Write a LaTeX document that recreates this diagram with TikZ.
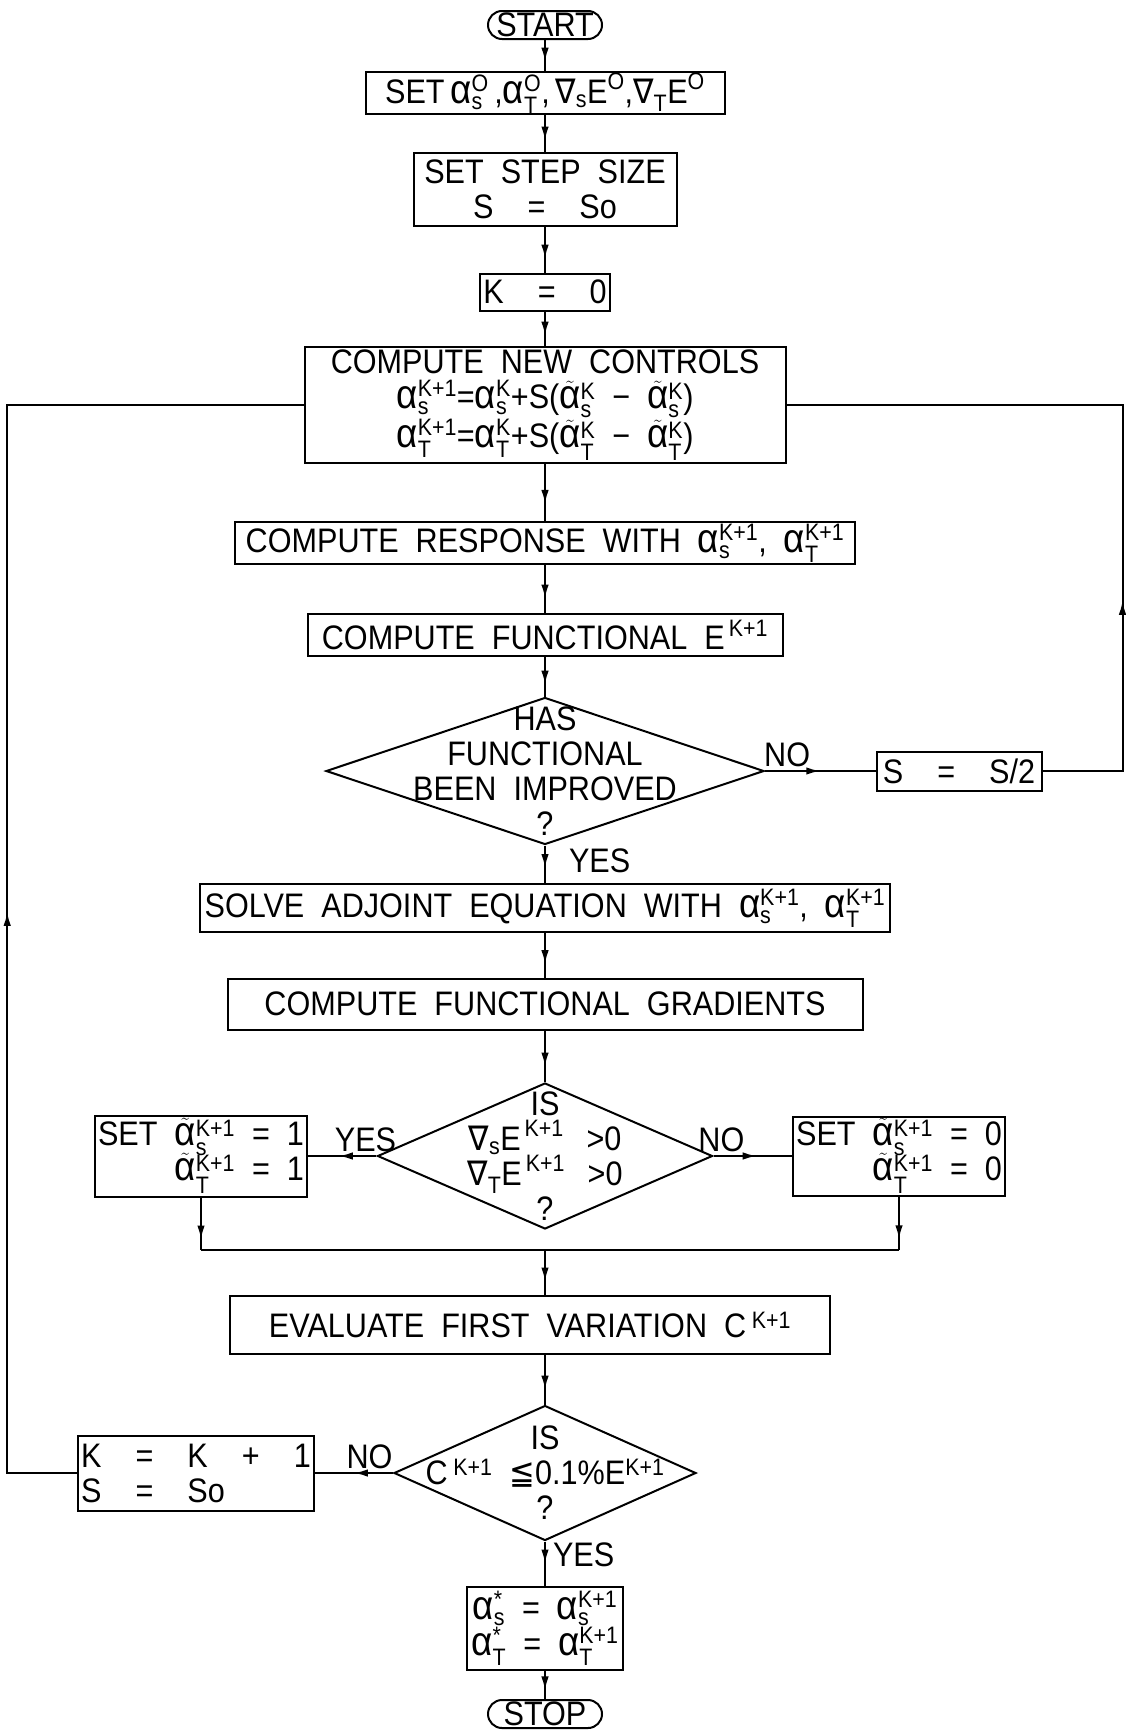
\documentclass[tikz,border=0pt]{standalone}
\usepackage{amsmath,amssymb}
\usepackage{fontspec}
\setmainfont{Liberation Sans}[FakeStretch=0.9]
\newfontfamily\dejavu{DejaVu Sans}[FakeStretch=0.9]
\usetikzlibrary{arrows.meta,positioning,shapes.geometric,decorations.markings}
\newcommand{\flowfont}{\fontsize{34}{35}\selectfont\spaceskip=0.5em\relax}
\newcommand{\alf}{\text{\scalebox{1.2}{α}}}
\newcommand{\ctl}[2]{\ensuremath{\alf^{\text{#1}}_{\text{#2}}}}
\newcommand{\ctlt}[2]{\ensuremath{{\smash[t]{\tilde{\alf}}}^{\text{#1}}_{\text{#2}}}}
\newcommand{\gradE}[2]{\ensuremath{\text{\dejavu ∇}_{\text{#1}}\text{E}^{\text{#2}}}}

\begin{document}
\begin{tikzpicture}[x=1pt, y=1pt,
  box/.style n args={2}{draw, on grid, line width=2pt, font=\flowfont, inner xsep=3pt, inner ysep=1pt, minimum width=#1, minimum height=#2},
  decision/.style n args={2}{draw, on grid, diamond, line width=2pt, inner sep=0pt, minimum width=#1, minimum height=#2},
  terminal/.style={draw, on grid, line width=2pt, rounded corners=14pt, font=\flowfont, inner sep=0pt, minimum width=114pt, minimum height=28pt},
  tag/.style={font=\flowfont, inner sep=3pt},
  flow/.style={line width=2pt, postaction={decorate}, decoration={markings, mark=at position #1 with {\arrow{Latex[length=14pt,width=7.5pt]}}}},
  flow/.default=0.7
]
\path[use as bounding box, fill=white] (0,0) rectangle (1126,-1732);

% main column
\node[terminal] (start) at (545,-25) {START};
\node[box={359pt}{40pt}, below=68pt of start] (setinit) {SET\,\ctl{O}{s}\,,\ctl{O}{T},\,\gradE{s}{O},\gradE{T}{O}};
\node[box={263pt}{73pt}, align=center, below=96pt of setinit] (stepsize) {SET STEP SIZE\\S \ = \ So};
\node[box={126pt}{37pt}, below=103pt of stepsize] (kzero) {K \ = \ 0};
\node[box={481pt}{116pt}, align=center, below=113pt of kzero] (newctl) {COMPUTE NEW CONTROLS\\\ctl{K+1}{s}=\ctl{K}{s}+S(\ctlt{K}{s} − \ctlt{K}{s})\\\ctl{K+1}{T}=\ctl{K}{T}+S(\ctlt{K}{T} − \ctlt{K}{T})};
\node[box={620pt}{42pt}, below=138pt of newctl] (response) {COMPUTE RESPONSE WITH \ctl{K+1}{s}, \ctl{K+1}{T}};
\node[box={475pt}{42pt}, below=92pt of response] (functional) {COMPUTE FUNCTIONAL \ensuremath{\text{E}^{\,\text{K+1}}}};
\node[decision={438pt}{147pt}, below=136pt of functional] (improved) {};
\node[tag, align=center] (improved-txt) at (improved) {HAS\\FUNCTIONAL\\BEEN IMPROVED\\?};
\node[box={165pt}{39pt}, right=414pt of improved] (halve) {S \ = \ S/2};
\node[box={690pt}{48pt}, below=137pt of improved] (adjoint) {SOLVE ADJOINT EQUATION WITH \ctl{K+1}{s}, \ctl{K+1}{T}};
\node[box={635pt}{51pt}, below=96pt of adjoint] (gradients) {COMPUTE FUNCTIONAL GRADIENTS};
\node[decision={335pt}{146pt}, below=152pt of gradients] (signq) {};
\node[tag, align=center] (signq-txt) at (signq) {IS\\\gradE{s}{\,K+1} \,>0\\\gradE{T}{\,K+1} \,>0\\?};
\node[box={206pt}{81pt}, align=right, left=344pt of signq] (setone) {\vphantom{\ensuremath{\tilde{\alf}}}SET \ctlt{K+1}{s} = 1\\\ctlt{K+1}{T} = 1};
\node[box={206pt}{79pt}, align=right, right=354pt of signq] (setzero) {\vphantom{\ensuremath{\tilde{\alf}}}SET \ctlt{K+1}{s} = 0\\\ctlt{K+1}{T} = 0};
\coordinate[on grid, below=94pt of signq] (merge);
\node[box={600pt}{58pt}, below=169pt of signq, xshift=-15pt] (evalvar) {EVALUATE FIRST VARIATION C\,\ensuremath{{}^{\text{K+1}}}};
\node[decision={302pt}{135pt}, below=148pt of evalvar, xshift=15pt] (conv) {};
\node[tag, align=center] (conv-txt) at (conv) {IS\\C\,\ensuremath{{}^{\text{K+1}}} {\dejavu ≦}0.1\%E\ensuremath{^{\text{K+1}}}\\?};
\node[box={219pt}{75pt}, align=left, left=349pt of conv] (incr) {K \ = \ K \ + \ 1\\S \ = \ So};
\node[box={156pt}{83pt}, align=center, below=155pt of conv] (optimum) {\ctl{*}{s} = \ctl{K+1}{s}\\\ctl{*}{T} = \ctl{K+1}{T}};
\node[terminal, below=86pt of optimum] (stop) {STOP};

% connectors
\draw[flow] (start) -- (setinit);
\draw[flow] (setinit) -- (stepsize);
\draw[flow] (stepsize) -- (kzero);
\draw[flow] (kzero) -- (newctl);
\draw[flow] (newctl) -- (response);
\draw[flow] (response) -- (functional);
\draw[flow] (functional) -- (improved);
\draw[flow=0.6] (improved) -- node[tag, right=20pt, pos=0.4] (yes1) {YES} (adjoint);
\draw[flow=0.5] (improved) -- node[tag, above, pos=0.2] (no1) {NO} (halve);
\coordinate[on grid, right=80pt of halve.east] (loopR);
\draw[flow=0.32] (halve.east) -- (loopR) -- (loopR |- newctl.east) -- (newctl.east);
\draw[flow] (adjoint) -- (gradients);
\draw[flow] (gradients) -- (signq);
\draw[flow=0.55] (signq) -- node[tag, above, pos=0.16] (yes2) {YES} (setone);
\draw[flow=0.55] (signq) -- node[tag, above, pos=0.1] (no2) {NO} (setzero);
\draw[flow=0.8] (setone) -- (setone |- merge);
\draw[flow=0.8] (setzero) -- (setzero |- merge);
\draw[line width=2pt] (setone |- merge) -- (setzero |- merge);
\draw[flow] (merge) -- (merge |- evalvar.north);
\draw[flow] (evalvar.south -| conv.north) -- (conv.north);
\draw[flow=0.5] (conv) -- node[tag, right=4pt, pos=0.3] (yes3) {YES} (optimum);
\draw[flow=0.5] (conv) -- node[tag, above, pos=0.3] (no3) {NO} (incr);
\draw[flow] (optimum) -- (stop);
\coordinate[on grid, left=70pt of incr.west] (loopL);
\draw[flow=0.44] (incr.west) -- (loopL) -- (loopL |- newctl.west) -- (newctl.west);
\end{tikzpicture}
\end{document}
